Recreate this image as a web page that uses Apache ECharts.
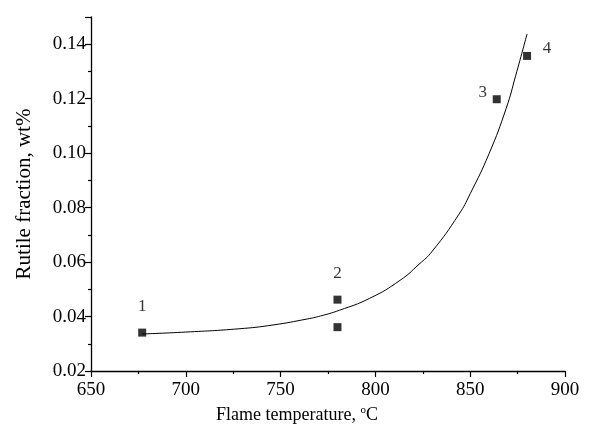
<!DOCTYPE html>
<html>
<head>
<meta charset="utf-8">
<script src="https://cdn.jsdelivr.net/npm/echarts@6/dist/echarts.min.js"></script>
<style>html,body{margin:0;padding:0;background:#fff}#c{width:591px;height:435px}</style>
</head>
<body>
<div id="c"></div>
<script>
// Measured points
const pointTemps = [677, 780, 780, 864, 880];
const pointValues = [0.0341, 0.0462, 0.0361, 0.1198, 0.1357];
const pointLabels = ['1', '2', '', '3', '4'];
// Fitted curve
const curveTemps = [677, 700, 728, 746, 764, 771, 781, 797, 813, 823, 830, 844, 850, 860, 869, 874, 880];
const curveValues = [0.0336, 0.0343, 0.0355, 0.0369, 0.0391, 0.0402, 0.0423, 0.0467, 0.0533, 0.0592, 0.0640, 0.0775, 0.0851, 0.0999, 0.1165, 0.1285, 0.1438];
// Axis ticks
const xTicks = [650, 700, 750, 800, 850, 900];
const yTicks = [0.02, 0.04, 0.06, 0.08, 0.10, 0.12, 0.14];

const labelOffsets = {'1': [0, -26], '2': [0, -26], '3': [-14, -7], '4': [20, -7]};
const font = 'Liberation Serif';

const chart = echarts.init(document.getElementById('c'), null, {renderer: 'canvas'});
chart.setOption({
  animation: false,
  backgroundColor: '#fff',
  grid: {left: 91, right: 26, top: 17, bottom: 64},
  xAxis: {
    type: 'value', min: xTicks[0], max: xTicks[xTicks.length - 1], interval: 50,
    name: 'Flame temperature, {sup|o}C', nameLocation: 'middle', nameGap: 23,
    nameTextStyle: {fontFamily: font, fontSize: 18, color: '#000', padding: [0, 62, 0, 0],
      rich: {sup: {fontFamily: font, fontSize: 11, color: '#000', verticalAlign: 'top', padding: [0, 0, 9, 0]}}},
    axisLine: {lineStyle: {color: '#000', width: 1.3}},
    axisTick: {inside: false, length: 6, lineStyle: {color: '#000', width: 1.2}},
    minorTick: {show: true, splitNumber: 2, length: 3, lineStyle: {color: '#000', width: 1.2}},
    axisLabel: {fontFamily: font, fontSize: 19, color: '#000', margin: 10},
    splitLine: {show: false}
  },
  yAxis: {
    type: 'value', min: 0.02, max: 0.15, interval: 0.02,
    name: 'Rutile fraction, wt%', nameLocation: 'middle', nameGap: 56,
    nameTextStyle: {fontFamily: font, fontSize: 21, color: '#000'},
    axisLine: {lineStyle: {color: '#000', width: 1.3}},
    axisTick: {inside: false, length: 6, lineStyle: {color: '#000', width: 1.2}},
    minorTick: {show: true, splitNumber: 2, length: 3, lineStyle: {color: '#000', width: 1.2}},
    axisLabel: {fontFamily: font, fontSize: 19, color: '#000', margin: 5,
      formatter: v => (yTicks.some(t => Math.abs(t - v) < 1e-9) ? v.toFixed(2) : '')},
    splitLine: {show: false}
  },
  series: [
    {
      type: 'line', smooth: true, symbol: 'none',
      data: curveTemps.map((t, i) => [t, curveValues[i]]),
      lineStyle: {color: '#000', width: 1}
    },
    {
      type: 'scatter', symbol: 'rect', symbolSize: 8,
      itemStyle: {color: '#000'},
      data: pointTemps.map((t, i) => ({
        value: [t, pointValues[i]],
        label: {
          show: pointLabels[i] !== '', formatter: pointLabels[i], position: 'inside',
          offset: labelOffsets[pointLabels[i]] || [0, 0],
          fontFamily: font, fontSize: 17, color: '#000'
        }
      }))
    }
  ]
});
</script>
</body>
</html>
